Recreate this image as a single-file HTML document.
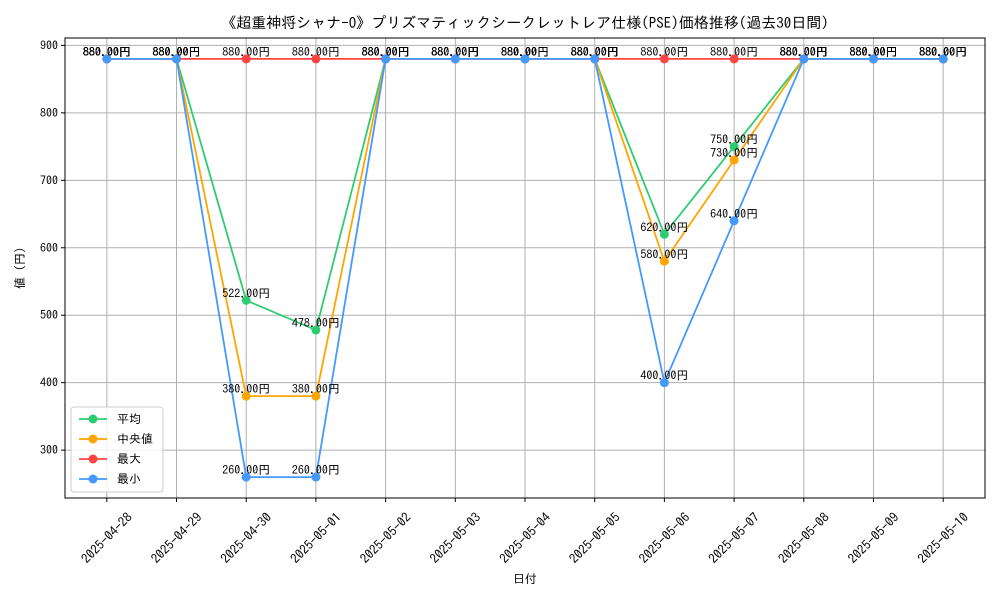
<!DOCTYPE html>
<html><head><meta charset="utf-8"><style>
body{margin:0;background:#fff;}
svg{display:block;font-family:"IPAGothic","Liberation Sans","Noto Sans CJK JP",sans-serif;}
</style></head><body>
<svg id="chart" width="1000" height="600">
<rect width="1000" height="600" fill="#fff"/>
<text x="525" y="28" text-anchor="middle" font-size="15">《超重神将シャナ-O》プリズマティックシークレットレア仕様(PSE)価格推移(過去30日間)</text>
<g id="grid"></g><g id="axes"></g><g id="series"></g><g id="labels"></g>
<text x="525" y="583" text-anchor="middle" font-size="12">日付</text>
<text transform="translate(24,268) rotate(-90)" text-anchor="middle" font-size="12">値 (円)</text>
<g id="legend"></g>
</svg>
<script>
const dates=["2025-04-28","2025-04-29","2025-04-30","2025-05-01","2025-05-02","2025-05-03","2025-05-04","2025-05-05","2025-05-06","2025-05-07","2025-05-08","2025-05-09","2025-05-10"];
const meanVals=[880,880,522,478,880,880,880,880,620,750,880,880,880];
const medianVals=[880,880,380,380,880,880,880,880,580,730,880,880,880];
const maxVals=[880,880,880,880,880,880,880,880,880,880,880,880,880];
const minVals=[880,880,260,260,880,880,880,880,400,640,880,880,880];
const yTicks=[300,400,500,600,700,800,900];
const seriesNames=["平均","中央値","最大","最小"];
const NS="http://www.w3.org/2000/svg";
const L=65,R=985,T=38,B=498;
const all=[...meanVals,...medianVals,...maxVals,...minVals];
const dmin=Math.min(...all),dmax=Math.max(...all),pad=(dmax-dmin)*0.05;
const y0=dmin-pad,y1=dmax+pad;
const n=dates.length,x0=-0.6,x1=n-1+0.6;
const X=i=>L+(i-x0)/(x1-x0)*(R-L);
const Y=v=>B-(v-y0)/(y1-y0)*(B-T);
function mk(tag,attrs,parent){const e=document.createElementNS(NS,tag);for(const k in attrs)e.setAttribute(k,attrs[k]);parent.appendChild(e);return e;}
const grid=document.getElementById('grid'),axes=document.getElementById('axes');
dates.forEach((d,i)=>{
 const gl=mk('line',{x1:X(i),x2:X(i),y1:T,y2:B,stroke:'#b0b0b0','stroke-width':1},grid);
 
 
 mk('line',{x1:X(i),x2:X(i),y1:B,y2:B+4,stroke:'#000'},axes);
 const cx=X(i),cy=B+40;
 const t=mk('text',{x:cx,y:cy,'font-size':13,'text-anchor':'middle','dominant-baseline':'central',transform:`rotate(-45 ${cx} ${cy})`},axes);
 t.textContent=d;
 
 
});
yTicks.forEach(v=>{
 const gl=mk('line',{x1:L,x2:R,y1:Y(v),y2:Y(v),stroke:'#b0b0b0','stroke-width':1},grid);
 
 
 mk('line',{x1:L-4,x2:L,y1:Y(v),y2:Y(v),stroke:'#000'},axes);
 const t=mk('text',{x:L-7,y:Y(v)+4,'font-size':12,'text-anchor':'end'},axes);
 t.textContent=v;
 
 
});
const frame=mk('rect',{x:L,y:T,width:R-L,height:B-T,fill:'none',stroke:'#000','stroke-width':1},axes);


const sdata=[meanVals,medianVals,maxVals,minVals];
const colors=['#2ecc71','#ffa500','#ff4444','#4499ff'];
const keys=['mean','median','max','min'];
const sg=document.getElementById('series'),lg=document.getElementById('labels');
sdata.forEach((vals,s)=>{
 const g=mk('g',{},sg);
 
 
 const p=mk('polyline',{points:vals.map((v,i)=>X(i)+','+Y(v)).join(' '),fill:'none',stroke:colors[s],'stroke-width':1.8},g);
 
 
 vals.forEach((v,i)=>{
  const c=mk('circle',{cx:X(i),cy:Y(v),r:4.5,fill:colors[s]},g);
  
  
  const t=mk('text',{x:X(i),y:Y(v)-3,'font-size':12,'text-anchor':'middle',fill:'#000'},lg);
  t.textContent=v.toFixed(2)+'円';
  
  
 });
});
const leg=document.getElementById('legend');
mk('rect',{x:71,y:407,width:92,height:85,rx:3,fill:'#fff','fill-opacity':0.8,stroke:'#ccc'},leg);
seriesNames.forEach((nm,s)=>{
 const yy=419+s*20;
 const e=mk('g',{},leg);
 
 
 mk('line',{x1:79,x2:107,y1:yy,y2:yy,stroke:colors[s],'stroke-width':1.8},e);
 mk('circle',{cx:93,cy:yy,r:4.5,fill:colors[s]},e);
 const t=mk('text',{x:117,y:yy+4,'font-size':12},e);
 t.textContent=nm;
});
</script>
</body></html>
